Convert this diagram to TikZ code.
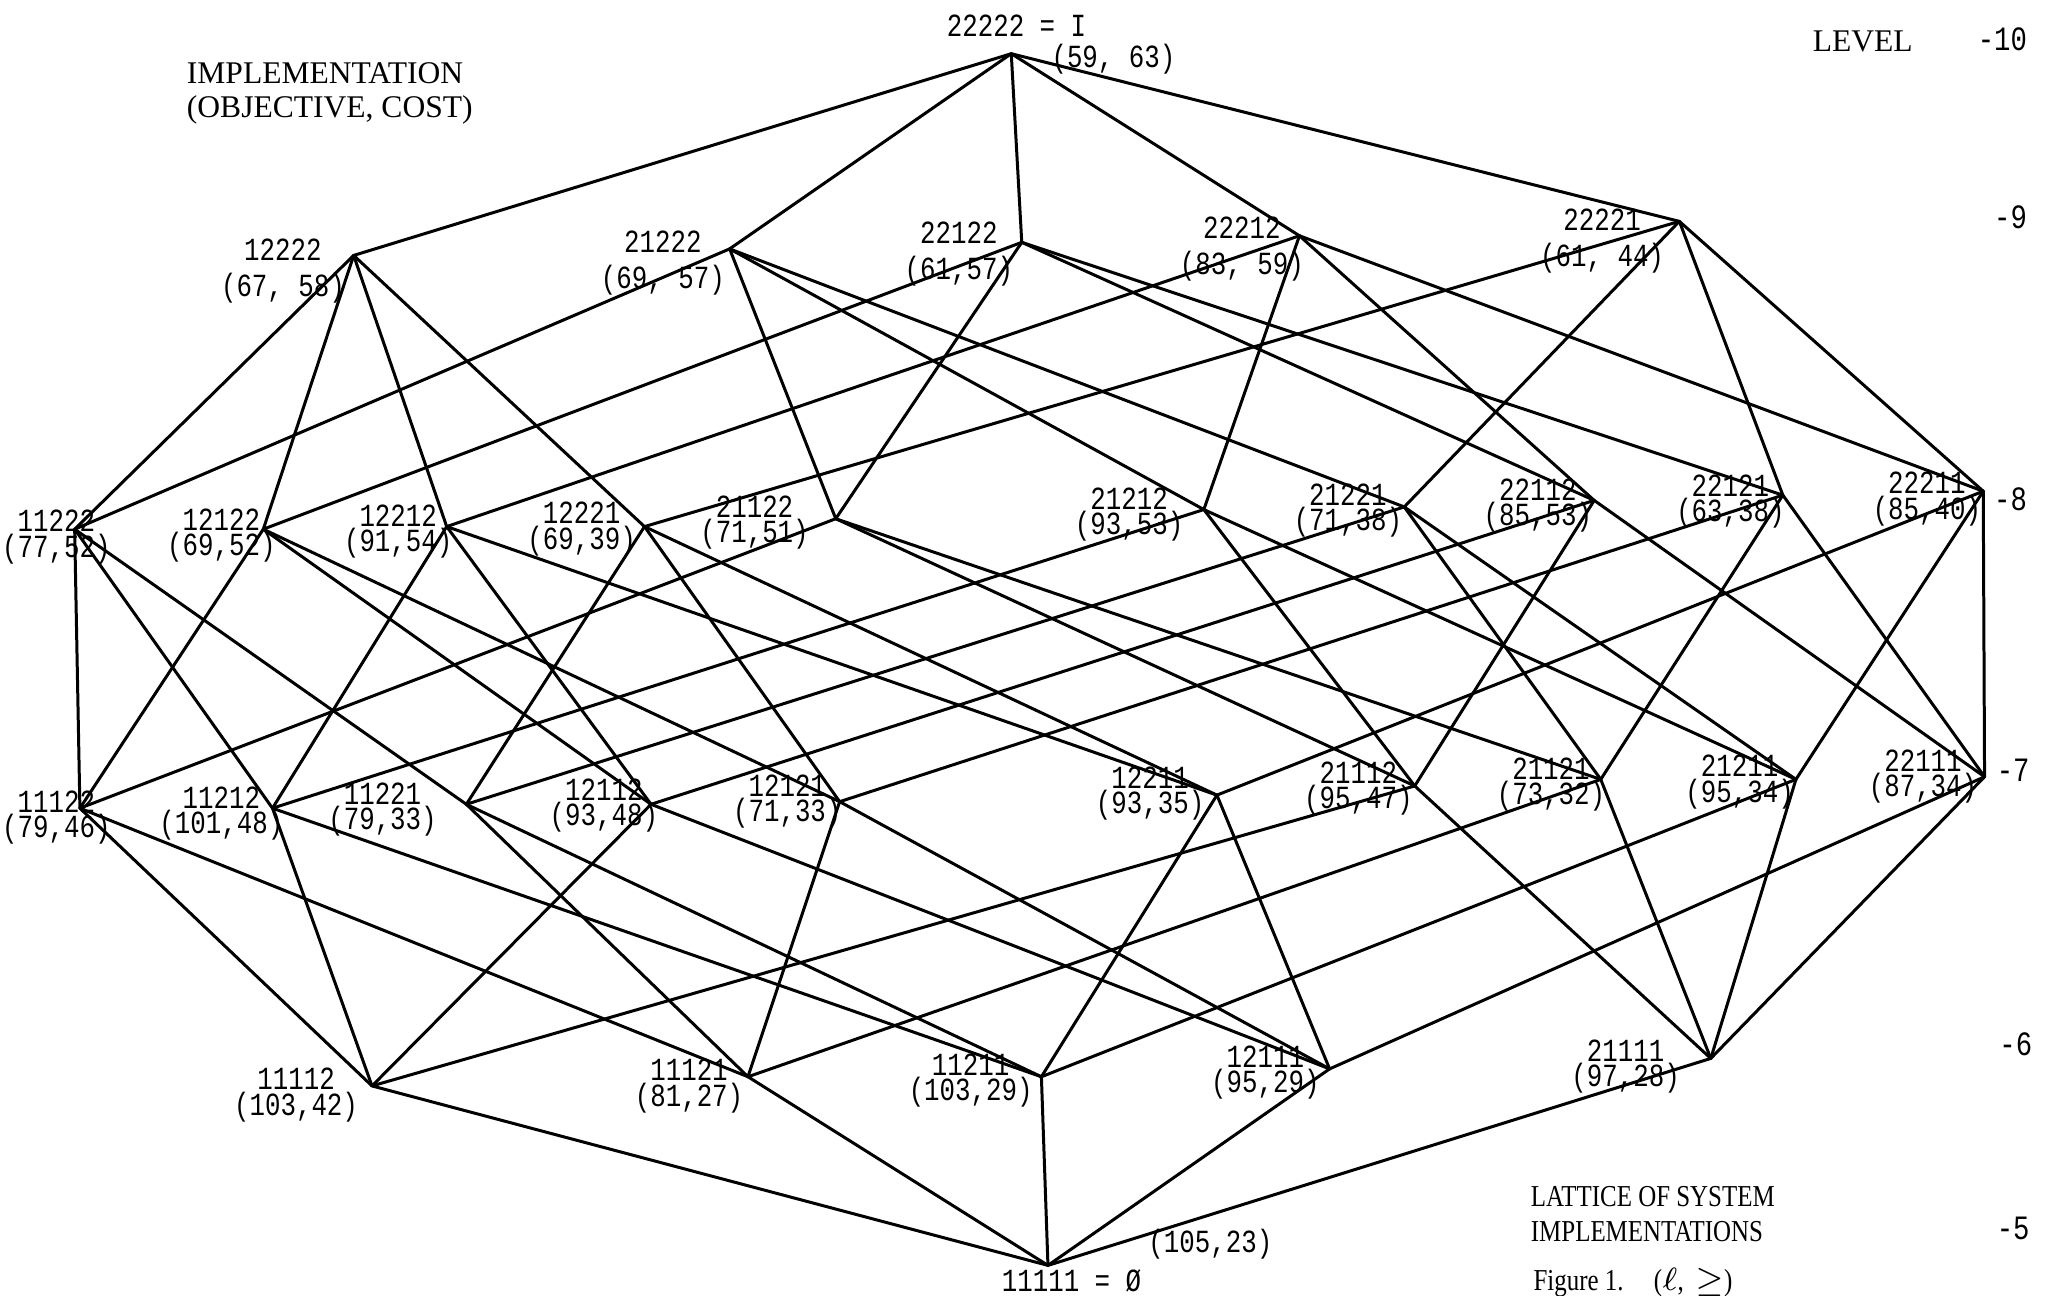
\documentclass[tikz,border=0pt]{standalone}
\usepackage{fontspec}
\setmainfont{Liberation Serif}
\newfontfamily\labfont[FakeStretch=0.8]{Liberation Mono}
\newfontfamily\capfont[FakeStretch=0.82]{Liberation Serif}

\begin{document}
\begin{tikzpicture}[
    x=0.01cm, y=-0.01cm,
    edge/.style={line width=0.65pt, line cap=round},
    lbl/.style={align=center, inner sep=0pt, font={\labfont\fontsize{7}{5.5}\selectfont}},
    lbltop/.style={lbl, font={\labfont\fontsize{7}{7.7}\selectfont}},
    lvl/.style={anchor=east, inner sep=0pt, font={\labfont\fontsize{7.4}{8}\selectfont}},
    caption/.style={anchor=west, align=left, inner sep=0pt, font={\fontsize{6.85}{7.4}\selectfont}}
  ]
  \useasboundingbox (0,0) rectangle (1568,989);

  %% Level -10
  \coordinate (n22222) at (772,41);

  %% Level -9
  \coordinate (n12222) at (270,195);
  \coordinate (n21222) at (557,190);
  \coordinate (n22122) at (780,185);
  \coordinate (n22212) at (992,180);
  \coordinate (n22221) at (1282,169);

  %% Level -8
  \coordinate (n11222) at (57,404);
  \coordinate (n12122) at (201,404);
  \coordinate (n12212) at (341,402);
  \coordinate (n12221) at (492,402);
  \coordinate (n21122) at (638,396);
  \coordinate (n21212) at (919,389);
  \coordinate (n21221) at (1072,387);
  \coordinate (n22112) at (1217,382);
  \coordinate (n22121) at (1361,378);
  \coordinate (n22211) at (1514,375);

  %% Level -7
  \coordinate (n11122) at (61,617);
  \coordinate (n11212) at (208,617);
  \coordinate (n11221) at (356,614);
  \coordinate (n12112) at (497,614);
  \coordinate (n12121) at (641,612);
  \coordinate (n12211) at (929,607);
  \coordinate (n21112) at (1080,600);
  \coordinate (n21121) at (1222,595);
  \coordinate (n21211) at (1371,595);
  \coordinate (n22111) at (1515,593);

  %% Level -6
  \coordinate (n11112) at (284,829);
  \coordinate (n11121) at (571,822);
  \coordinate (n11211) at (795,822);
  \coordinate (n12111) at (1015,816);
  \coordinate (n21111) at (1306,808);

  %% Level -5
  \coordinate (n11111) at (800,966);

  %% -10 -> -9
  \foreach \t in {12222,21222,22122,22212,22221} \draw[edge] (n22222) -- (n\t);

  %% -9 -> -8
  \foreach \t in {11222,12122,12212,12221} \draw[edge] (n12222) -- (n\t);
  \foreach \t in {11222,21122,21212,21221} \draw[edge] (n21222) -- (n\t);
  \foreach \t in {12122,21122,22112,22121} \draw[edge] (n22122) -- (n\t);
  \foreach \t in {12212,21212,22112,22211} \draw[edge] (n22212) -- (n\t);
  \foreach \t in {12221,21221,22121,22211} \draw[edge] (n22221) -- (n\t);

  %% -8 -> -7
  \foreach \t in {11122,11212,11221} \draw[edge] (n11222) -- (n\t);
  \foreach \t in {11122,12112,12121} \draw[edge] (n12122) -- (n\t);
  \foreach \t in {11212,12112,12211} \draw[edge] (n12212) -- (n\t);
  \foreach \t in {11221,12121,12211} \draw[edge] (n12221) -- (n\t);
  \foreach \t in {11122,21112,21121} \draw[edge] (n21122) -- (n\t);
  \foreach \t in {11212,21112,21211} \draw[edge] (n21212) -- (n\t);
  \foreach \t in {11221,21121,21211} \draw[edge] (n21221) -- (n\t);
  \foreach \t in {12112,21112,22111} \draw[edge] (n22112) -- (n\t);
  \foreach \t in {12121,21121,22111} \draw[edge] (n22121) -- (n\t);
  \foreach \t in {12211,21211,22111} \draw[edge] (n22211) -- (n\t);

  %% -7 -> -6
  \foreach \t in {11112,11121} \draw[edge] (n11122) -- (n\t);
  \foreach \t in {11112,11211} \draw[edge] (n11212) -- (n\t);
  \foreach \t in {11121,11211} \draw[edge] (n11221) -- (n\t);
  \foreach \t in {11112,12111} \draw[edge] (n12112) -- (n\t);
  \foreach \t in {11121,12111} \draw[edge] (n12121) -- (n\t);
  \foreach \t in {11211,12111} \draw[edge] (n12211) -- (n\t);
  \foreach \t in {11112,21111} \draw[edge] (n21112) -- (n\t);
  \foreach \t in {11121,21111} \draw[edge] (n21121) -- (n\t);
  \foreach \t in {11211,21111} \draw[edge] (n21211) -- (n\t);
  \foreach \t in {12111,21111} \draw[edge] (n22111) -- (n\t);

  %% -6 -> -5
  \foreach \t in {11112,11121,11211,12111,21111} \draw[edge] (n\t) -- (n11111);

  %% labels
  \node[lbl] (l22222) at (776,20) {22222 = I};
  \node[lbl] (v22222) at (850,45) {(59, 63)};

  \node[lbltop] (l12222) at (216,207) {12222\\(67, 58)};
  \node[lbltop] (l21222) at (506,201) {21222\\(69, 57)};
  \node[lbltop] (l22122) at (732,194) {22122\\(61,57)};
  \node[lbltop] (l22212) at (948,190) {22212\\(83, 59)};
  \node[lbltop] (l22221) at (1223,184) {22221\\(61, 44)};

  \node[lbl] (l11222) at (43,410) {11222\\(77,52)};
  \node[lbl] (l12122) at (169,409) {12122\\(69,52)};
  \node[lbl] (l12212) at (304,406) {12212\\(91,54)};
  \node[lbl] (l12221) at (444,404) {12221\\(69,39)};
  \node[lbl] (l21122) at (576,399) {21122\\(71,51)};
  \node[lbl] (l21212) at (862,393) {21212\\(93,53)};
  \node[lbl] (l21221) at (1029,390) {21221\\(71,38)};
  \node[lbl] (l22112) at (1174,386) {22112\\(85,53)};
  \node[lbl] (l22121) at (1321,383) {22121\\(63,38)};
  \node[lbl] (l22211) at (1471,381) {22211\\(85,40)};

  \node[lbl] (l11122) at (43,624) {11122\\(79,46)};
  \node[lbl] (l11212) at (169,621) {11212\\(101,48)};
  \node[lbl] (l11221) at (292,618) {11221\\(79,33)};
  \node[lbl] (l12112) at (461,615) {12112\\(93,48)};
  \node[lbl] (l12121) at (601,612) {12121\\(71,33)};
  \node[lbl] (l12211) at (878,606) {12211\\(93,35)};
  \node[lbl] (l21112) at (1037,602) {21112\\(95,47)};
  \node[lbl] (l21121) at (1184,599) {21121\\(73,32)};
  \node[lbl] (l21211) at (1328,597) {21211\\(95,34)};
  \node[lbl] (l22111) at (1468,593) {22111\\(87,34)};

  \node[lbl] (l11112) at (226,836) {11112\\(103,42)};
  \node[lbl] (l11121) at (526,829) {11121\\(81,27)};
  \node[lbl] (l11211) at (741,825) {11211\\(103,29)};
  \node[lbl] (l12111) at (966,819) {12111\\(95,29)};
  \node[lbl] (l21111) at (1241,814) {21111\\(97,28)};

  \node[lbl] (l11111) at (818,978) {11111 = Ø};
  \node[lbl] (v11111) at (924,950) {(105,23)};

  %% level scale
  \node[caption, anchor=center] (lev) at (1422,32) {LEVEL};
  \node[lvl] (lv10) at (1548,30) {-10};
  \node[lvl] (lv9) at (1548,166) {-9};
  \node[lvl] (lv8) at (1548,381) {-8};
  \node[lvl] (lv7) at (1550,588) {-7};
  \node[lvl] (lv6) at (1552,797) {-6};
  \node[lvl] (lv5) at (1550,938) {-5};

  %% captions
  \node[caption] (impl) at (142,71) {IMPLEMENTATION\\(OBJECTIVE, COST)};
  \node[caption, font={\capfont\fontsize{6.6}{7.6}\selectfont}] (latt) at (1168,927) {LATTICE OF SYSTEM\\IMPLEMENTATIONS};
  \node[caption, font={\capfont\fontsize{6.6}{7.6}\selectfont}] (fig) at (1170,979) {Figure 1.\quad($\ell$,\, $\geq$)};
\end{tikzpicture}
\end{document}
